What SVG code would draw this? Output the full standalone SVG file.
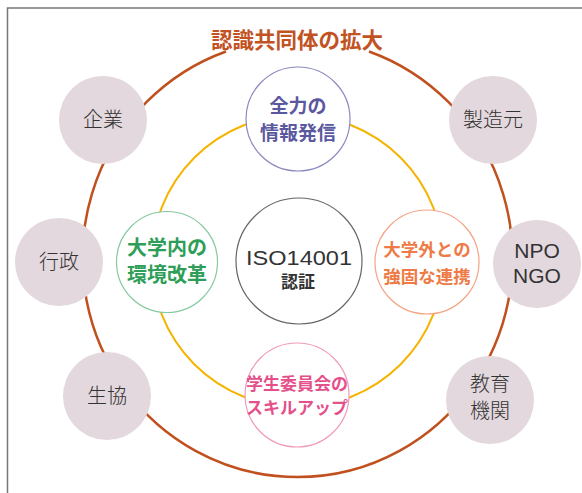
<svg xmlns="http://www.w3.org/2000/svg" width="582" height="493" viewBox="0 0 582 493">
<style>
.jp{font-family:"Noto Sans CJK JP","Noto Sans",sans-serif;}
.outer circle{fill:#e3d8dd;stroke:none;}
.outer text{fill:#333;font-size:20px;font-weight:300;text-anchor:middle;}
.outer text.lat{font-family:"Liberation Sans",sans-serif;font-size:21px;font-weight:400;}
.inner circle{fill:#fff;stroke-width:1.2;}
.inner text{font-weight:700;text-anchor:middle;}
</style>
<rect width="582" height="493" fill="#fff"/>
<path d="M7.5,493 V8 H582" fill="none" stroke="#777" stroke-width="1.5"/>
<g id="connectors" fill="none">
<path id="outer-ring" d="M226,51.5 A215 219 0 1 0 369,51.5" stroke="#c0501e" stroke-width="2.5"/>
<circle id="inner-ring" cx="297.5" cy="261" r="146" stroke="#f5b400" stroke-width="2"/>
</g>
<text id="title" class="jp" x="297" y="48" style="font-size:21.5px;font-weight:700" fill="#c2521f" text-anchor="middle">認識共同体の拡大</text>
<g class="outer jp">
<g id="n-kigyo"><circle cx="103" cy="120" r="44"/><text x="103" y="127">企業</text></g>
<g id="n-seizomoto"><circle cx="493" cy="120" r="44"/><text x="493" y="127">製造元</text></g>
<g id="n-gyosei"><circle cx="59" cy="262" r="44"/><text x="59" y="269">行政</text></g>
<g id="n-npo"><circle cx="537" cy="264" r="44"/><text class="lat" x="537" y="258">NPO</text><text class="lat" x="537" y="283">NGO</text></g>
<g id="n-seikyo"><circle cx="107" cy="396" r="44"/><text x="107" y="403">生協</text></g>
<g id="n-kyoiku"><circle cx="490" cy="400" r="44"/><text x="490" y="391">教育</text><text x="490" y="418">機関</text></g>
</g>
<g class="inner jp">
<g id="n-joho"><circle cx="298" cy="119" r="52" stroke="#8a89c0"/><text x="298" y="113" fill="#5b58a0" style="font-size:19px">全力の</text><text x="298" y="140" fill="#5b58a0" style="font-size:19px">情報発信</text></g>
<g id="n-kankyo"><circle cx="167" cy="262" r="50.5" stroke="#86c99f"/><text x="167" y="255" fill="#2e9e58" style="font-size:20px">大学内の</text><text x="167" y="282" fill="#2e9e58" style="font-size:20px">環境改革</text></g>
<g id="n-renkei"><circle cx="427" cy="262" r="52" stroke="#f4a383"/><text x="427" y="255.5" fill="#ee7a45" style="font-size:17.5px">大学外との</text><text x="427" y="283" fill="#ee7a45" style="font-size:17.5px">強固な連携</text></g>
<g id="n-skill"><circle cx="297" cy="395" r="52" stroke="#f09ab8"/><text x="297" y="390" fill="#e4508a" style="font-size:17px">学生委員会の</text><text x="297" y="413.5" fill="#e4508a" style="font-size:17px">スキルアップ</text></g>
<g id="n-iso"><circle cx="299" cy="261" r="63" stroke="#666"/><text x="299" y="265" fill="#333" style="font-size:21px;font-family:'Liberation Sans',sans-serif;font-weight:400" textLength="106" lengthAdjust="spacingAndGlyphs">ISO14001</text><text x="298" y="288" fill="#333" style="font-size:17px">認証</text></g>
</g>
</svg>
